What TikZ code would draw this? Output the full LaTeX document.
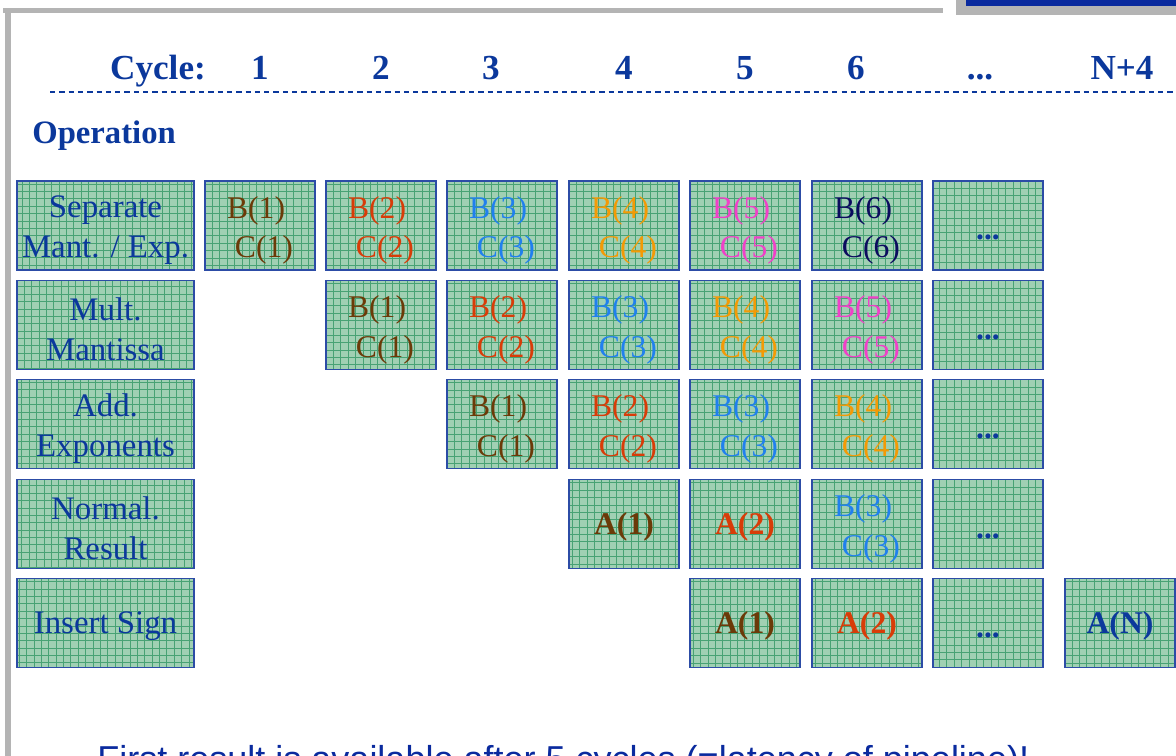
\documentclass[tikz,border=0pt]{standalone}
\usepackage{fontspec}
\setmainfont{Liberation Serif}
\newfontfamily\slidesans{Liberation Sans}
\usetikzlibrary{positioning}
\definecolor{slideblue}{HTML}{0B389C}
\definecolor{titleblue}{HTML}{0A2A9E}
\definecolor{framegray}{HTML}{B4B4B4}
\definecolor{cellfill}{HTML}{A0D0B3}
\definecolor{cellgrid}{HTML}{48A274}
\definecolor{cellrim}{HTML}{2C4CA6}
\definecolor{op1}{HTML}{6B3A08}
\definecolor{op2}{HTML}{D83C08}
\definecolor{op3}{HTML}{2080EE}
\definecolor{op4}{HTML}{F39A05}
\definecolor{op5}{HTML}{F040C8}
\definecolor{op6}{HTML}{0B0B5E}
\newcommand{\cycdots}{...}
\newcommand{\moredots}{{\color{slideblue}\rule{0pt}{16.7pt}\textbf{\cycdots}}}
\newcommand{\bcpair}[1]{\rule{0pt}{18pt}B(#1)\\\hspace{4.5pt}C(#1)}
\newcommand{\oneline}[1]{\rule{0pt}{15.6pt}#1}
\newcommand{\twolines}[2]{\rule{0pt}{18pt}#1\\#2}

\begin{document}
\begin{tikzpicture}[
  x=0.02cm, y=-0.02cm,
  every node/.style={inner sep=0pt},
  cell/.style={draw=cellrim, line width=0.85pt, fill=cellfill,
               minimum width=2.2cm, minimum height=1.78cm, align=left,
               font=\fontsize{18}{22.6}\selectfont,
               path picture={\draw[cellgrid, line width=0.3pt, step=4.2pt]
                 (path picture bounding box.south west) grid
                 (path picture bounding box.north east);}},
  opcell/.style={cell, minimum width=3.54cm, align=center, text=slideblue,
                 font=\fontsize{18.7}{22.6}\selectfont},
  hd/.style={font=\fontsize{20}{24}\selectfont\bfseries, text=slideblue, anchor=base},
  res/.style={font=\fontsize{18}{22.6}\selectfont\bfseries},
  divider/.style={draw=slideblue, line width=0.6pt, dash pattern=on 3pt off 2.3pt}
]
\useasboundingbox (0,0) rectangle (1176,756);
\clip (0,0) rectangle (1176,756);

% slide frame
\fill[framegray] (3,8) rectangle (943,13);
\fill[framegray] (5,8) rectangle (11,756);
\fill[framegray] (956,0) rectangle (1176,15);
\fill[titleblue] (966,0) rectangle (1176,6);

% header
\node[hd] (cyc) at (158,80) {Cycle:};
\foreach \k/\hx/\cnum in {1/260/1, 2/381/2, 3/491/3, 4/624/4, 5/745/5,
                          6/856/6, 7/980/\cycdots, 8/1122/N+4}
  \node[hd] (cyc\k) at (\hx,80) {\cnum};
\coordinate (dashL) at (50,92);
\coordinate (dashR) at (1176,92);
\draw[divider] (dashL) -- (dashR);
\node[hd, anchor=base west, font=\fontsize{18.6}{22}\selectfont\bfseries]
  (opr) at (32,144) {Operation};

% operation column
\node[opcell] (sepop) at (105.5,225.5) {\twolines{Separate}{Mant. / Exp.}};
\node[opcell] (mulop) at (105.5,325) {\twolines{Mult.}{Mantissa}};
\node[opcell] (addop) at (105.5,424) {\twolines{Add.}{Exponents}};
\node[opcell] (nrmop) at (105.5,524) {\twolines{Normal.}{Result}};
\node[opcell] (sgnop) at (105.5,623) {\oneline{Insert Sign}};

% first three stages
\foreach \rn/\ry/\lag in {sep/225.5/0, mul/325/1, add/424/2} {
  \foreach \k/\cx in {1/260, 2/381, 3/502, 4/624, 5/745, 6/867} {
    \pgfmathtruncatemacro{\n}{\k-\lag}
    \ifnum\n>0
      \node[cell, text=op\n] (\rn\k) at (\cx,\ry) {\bcpair{\n}};
    \fi
  }
  \node[cell] (\rn7) at (988,\ry) {\moredots};
}

% normalise
\node[cell, res, text=op1] (nrm4) at (624,524) {\oneline{A(1)}};
\node[cell, res, text=op2] (nrm5) at (745,524) {\oneline{A(2)}};
\node[cell, text=op3] (nrm6) at (867,524) {\bcpair{3}};
\node[cell] (nrm7) at (988,524) {\moredots};

% sign
\node[cell, res, text=op1] (sgn5) at (745,623) {\oneline{A(1)}};
\node[cell, res, text=op2] (sgn6) at (867,623) {\oneline{A(2)}};
\node[cell] (sgn7) at (988,623) {\moredots};
\node[cell, res, text=slideblue] (sgn8) at (1120,623) {\oneline{A(N)}};

\node[anchor=base west, font=\slidesans\fontsize{20.5}{24}\selectfont, text=titleblue]
  (note) at (97,771) {First result is available after 5 cycles (=latency of pipeline)!};
\end{tikzpicture}
\end{document}
